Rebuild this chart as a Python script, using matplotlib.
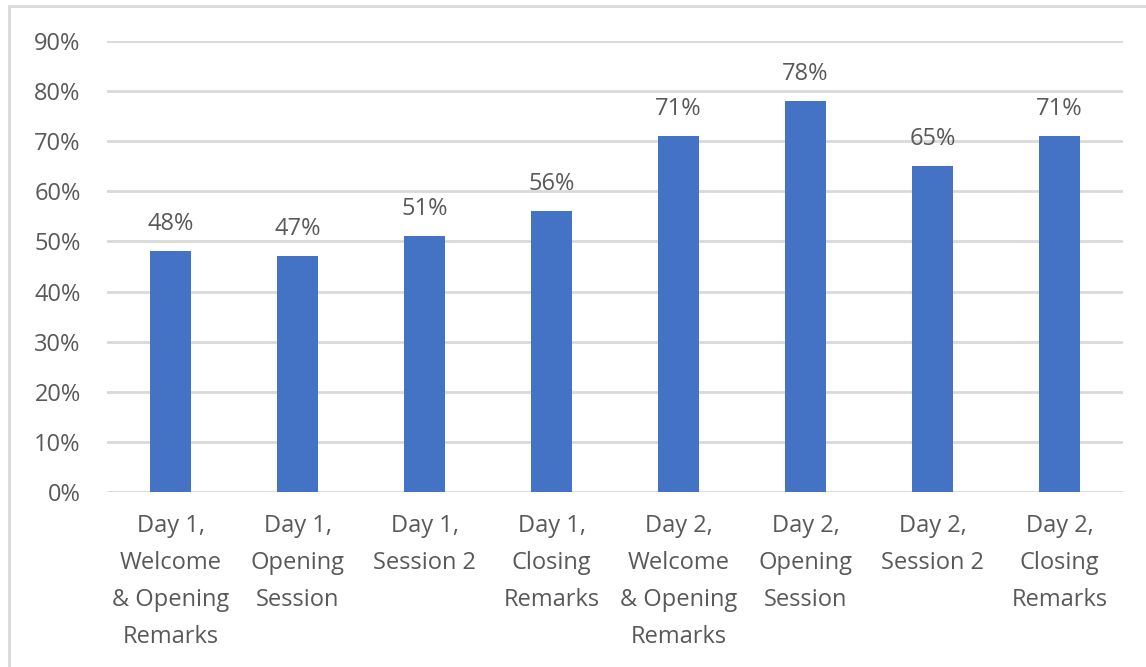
import numpy as np
import matplotlib.pyplot as plt
from matplotlib.patches import Rectangle
from matplotlib.ticker import PercentFormatter

# session attendance share
sessions = [
    "Day 1,\nWelcome\n& Opening\nRemarks",
    "Day 1,\nOpening\nSession",
    "Day 1,\nSession 2",
    "Day 1,\nClosing\nRemarks",
    "Day 2,\nWelcome\n& Opening\nRemarks",
    "Day 2,\nOpening\nSession",
    "Day 2,\nSession 2",
    "Day 2,\nClosing\nRemarks",
]
share = [0.48, 0.47, 0.51, 0.56, 0.71, 0.78, 0.65, 0.71]
yticks = np.arange(0, 0.91, 0.1)

plt.rcParams['font.family'] = ['Open Sans', 'DejaVu Sans']
txt = '#595959'
grid = '#d9d9d9'

fig = plt.figure(figsize=(11.46, 6.67), dpi=100)
ax = fig.add_axes([0.0934, 0.2624, 0.8866, 0.6761])

x = np.arange(len(sessions))
bars = ax.bar(x, share, width=0.32, color='#4472c4', zorder=3)
for b, v in zip(bars, share):
    ax.annotate(f'{v:.0%}', (b.get_x() + b.get_width() / 2, v),
                xytext=(0, 11), textcoords='offset points',
                ha='center', va='bottom', fontsize=17, color=txt)

ax.set_xlim(-0.5, len(sessions) - 0.5)
ax.set_ylim(0, 0.9)
ax.set_yticks(yticks)
ax.yaxis.set_major_formatter(PercentFormatter(1, decimals=0))
ax.set_xticks(x)
ax.set_xticklabels(sessions, fontsize=17, color=txt, linespacing=1.72)
ax.tick_params(axis='y', labelsize=17, labelcolor=txt, length=0, pad=19)
ax.tick_params(axis='x', length=0, pad=16)
ax.grid(axis='y', color=grid, linewidth=2, zorder=0)
for s in ax.spines.values():
    s.set_visible(False)

# outer chart frame (only top and left edges fall inside the image)
fig.patches.append(Rectangle((9 / 1146, -0.1), 1.2, 0.1 + 661 / 667,
                             transform=fig.transFigure, fill=False,
                             edgecolor=grid, linewidth=2))

fig.savefig('out.png', dpi=100)
